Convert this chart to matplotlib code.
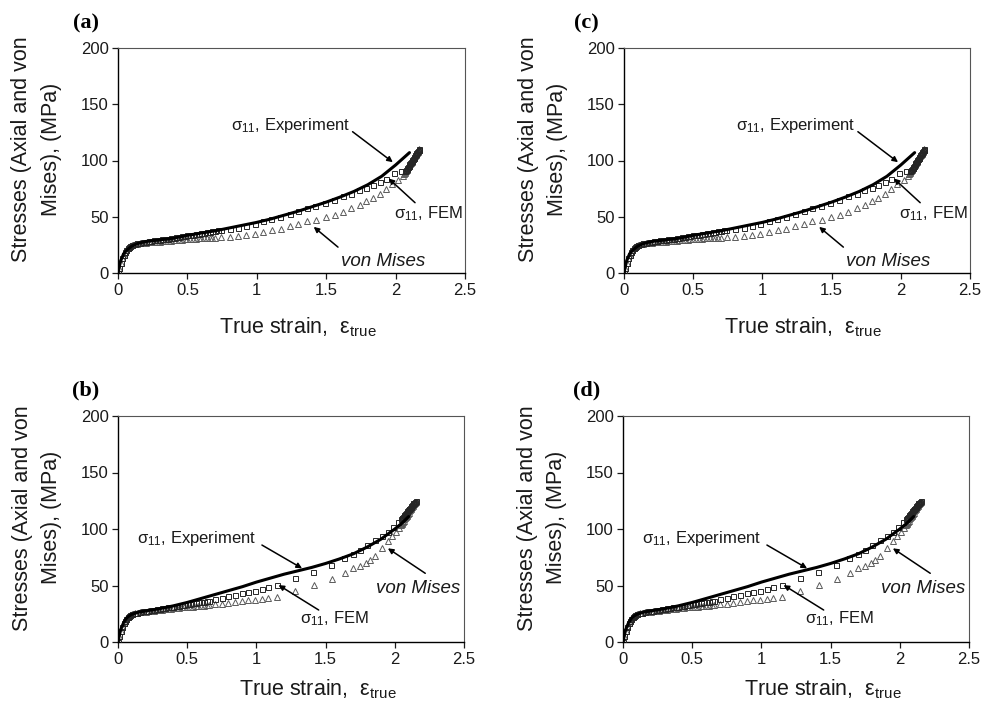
"""
Stress vs true strain, four panels (a)-(d): experiment line, FEM sigma_11
(squares) and von Mises (triangles).
"""
import matplotlib
matplotlib.use('Agg')
import matplotlib.pyplot as plt

plt.rcParams['font.family'] = ['Liberation Sans', 'DejaVu Sans']
plt.rcParams['mathtext.fontset'] = 'custom'
plt.rcParams['mathtext.rm'] = 'Liberation Sans'
plt.rcParams['mathtext.it'] = 'Liberation Sans:italic'
plt.rcParams['mathtext.sf'] = 'Liberation Sans'

# -----------------------------------------------------------------------------
# Datos: panel superior (a) y (c)
# -----------------------------------------------------------------------------
exp_top_x = [0, 0.01, 0.02, 0.04, 0.06, 0.08, 0.1, 0.15, 0.2, 0.3, 0.4, 0.5,
             0.6, 0.7, 0.8, 0.9, 1.0, 1.1, 1.2, 1.3, 1.4, 1.5, 1.6, 1.7, 1.8,
             1.9, 2.0, 2.05, 2.1]
exp_top_y = [0, 6, 11, 17, 20, 22, 24, 26.5, 28, 29.5, 31, 33.5, 35.5, 37.5,
             40, 42.5, 45, 48, 51.5, 55, 59, 63, 67.5, 72.5, 78.5, 86, 96,
             101.5, 107]

fem_top_x = [0, 0.01, 0.02, 0.03, 0.04, 0.05, 0.06, 0.07, 0.08, 0.09, 0.10,
             0.12, 0.14, 0.16, 0.18, 0.20, 0.22, 0.24, 0.26, 0.28, 0.30, 0.32,
             0.34, 0.36, 0.38, 0.40, 0.42, 0.44, 0.46, 0.48, 0.50, 0.52, 0.54,
             0.56, 0.58, 0.60, 0.62, 0.64, 0.66, 0.68, 0.70, 0.72, 0.74,
             0.805, 0.865, 0.925, 0.985, 1.045, 1.105, 1.17, 1.237, 1.30, 1.36,
             1.42, 1.49, 1.554, 1.62, 1.68, 1.736, 1.79, 1.837, 1.885, 1.93,
             1.99, 2.04, 2.07, 2.075, 2.08, 2.085, 2.09, 2.095, 2.10, 2.105,
             2.11, 2.115, 2.12, 2.125, 2.13, 2.135, 2.14, 2.145, 2.15, 2.155,
             2.16, 2.165, 2.17]
fem_top_y = [0, 4.5, 9, 13, 16, 18.5, 20.5, 22, 23, 24, 24.8,
             25.8, 26.5, 27, 27.4, 27.8, 28.2, 28.5, 28.9, 29.2, 29.6, 29.9,
             30.3, 30.6, 31, 31.4, 31.8, 32.2, 32.6, 33, 33.4, 33.8, 34.2,
             34.6, 35, 35.4, 35.8, 36.2, 36.6, 37, 37.4, 37.8, 38.2,
             39.3, 40.3, 41.6, 43.6, 45.8, 47.9, 50.2, 52.6, 55.0, 57.5,
             59.5, 62.6, 65.2, 68.1, 70.5, 73.4, 75.5, 77.9, 80.5, 83.6,
             88.5, 90.3, 90.8, 91.5, 92.5, 93.5, 94.5, 95.5, 96.5, 97.5,
             98.5, 99.5, 100.5, 101.5, 102.5, 103.5, 104.5, 105.5, 106.5, 107.5,
             108.5, 109.3, 110]

vm_top_x = [0, 0.01, 0.02, 0.03, 0.04, 0.05, 0.06, 0.07, 0.08, 0.09, 0.10,
            0.12, 0.14, 0.16, 0.18, 0.20, 0.22, 0.24, 0.26, 0.28, 0.30, 0.32,
            0.34, 0.36, 0.38, 0.40, 0.42, 0.44, 0.46, 0.48, 0.50, 0.52, 0.54,
            0.56, 0.58, 0.60, 0.62, 0.64, 0.66, 0.68, 0.70,
            0.745, 0.805, 0.865, 0.925, 0.985, 1.045, 1.112, 1.172, 1.237, 1.30,
            1.36, 1.43, 1.497, 1.56, 1.62, 1.68, 1.74, 1.79, 1.837, 1.885,
            1.93, 1.975, 2.02, 2.05, 2.06, 2.065, 2.07, 2.075, 2.08, 2.085,
            2.09, 2.095, 2.10, 2.105, 2.11, 2.115, 2.12, 2.125, 2.13, 2.135,
            2.14, 2.145, 2.15, 2.155, 2.16, 2.165, 2.17]
vm_top_y = [0, 4.5, 9, 13, 16, 18.5, 20.5, 22, 23, 24, 24.8,
            25.6, 26.1, 26.5, 26.8, 27, 27.2, 27.4, 27.6, 27.8, 28, 28.2,
            28.4, 28.6, 28.8, 29, 29.2, 29.4, 29.6, 29.8, 30, 30.2, 30.4,
            30.6, 30.8, 31, 31.1, 31.2, 31.3, 31.4, 31.5,
            31.6, 32, 32.6, 33.5, 34.7, 36.1, 38.5, 39.4, 41.4, 43.8,
            45.9, 47.4, 49.8, 51.8, 54.5, 57.8, 60.7, 63.7, 66.7, 70.5,
            74.7, 79.1, 82.9, 86.5, 88, 89, 90, 91, 92, 93,
            94, 95, 96, 97, 98, 99, 100, 101, 102, 103,
            104, 105, 106, 107, 108, 109, 110]

# -----------------------------------------------------------------------------
# Datos: panel inferior (b) y (d)
# -----------------------------------------------------------------------------
exp_bot_x = [0, 0.01, 0.02, 0.04, 0.06, 0.08, 0.1, 0.15, 0.2, 0.3, 0.4, 0.5,
             0.6, 0.7, 0.8, 0.9, 1.0, 1.1, 1.2, 1.3, 1.4, 1.5, 1.6, 1.7, 1.8,
             1.9, 2.0, 2.05, 2.1]
exp_bot_y = [0, 6, 11, 17, 21, 23, 24.5, 26.5, 27.5, 29.5, 32, 35, 38.5, 42,
             45.5, 49, 53, 56.5, 60, 63, 66, 69.5, 73.5, 78, 84, 91, 100,
             105, 111]

fem_bot_x = [0, 0.01, 0.02, 0.03, 0.04, 0.05, 0.06, 0.07, 0.08, 0.09, 0.10,
             0.12, 0.14, 0.16, 0.18, 0.20, 0.22, 0.24, 0.26, 0.28, 0.30, 0.32,
             0.34, 0.36, 0.38, 0.40, 0.42, 0.44, 0.46, 0.48, 0.50, 0.52, 0.54,
             0.56, 0.58, 0.60, 0.62, 0.64, 0.66,
             0.70, 0.75, 0.797, 0.845, 0.894, 0.94, 0.99, 1.038, 1.086, 1.146,
             1.28, 1.41, 1.54, 1.635, 1.70, 1.75, 1.80, 1.86, 1.905, 1.95,
             1.99, 2.025, 2.045, 2.05, 2.055, 2.06, 2.065, 2.07, 2.075, 2.08,
             2.085, 2.09, 2.095, 2.10, 2.105, 2.11, 2.115, 2.12, 2.125, 2.13,
             2.135, 2.14, 2.145, 2.15]
fem_bot_y = [0, 5, 9.5, 13.5, 16.5, 19, 20.5, 22, 23, 24, 24.7,
             25.5, 26.1, 26.6, 27, 27.4, 27.8, 28.2, 28.6, 29, 29.4, 29.8,
             30.2, 30.6, 31, 31.4, 31.8, 32.2, 32.6, 33, 33.4, 33.8, 34.2,
             34.6, 35, 35.4, 35.8, 36.2, 36.6,
             37.8, 39.3, 40.5, 41.6, 43.0, 44.2, 45.4, 46.9, 48.4, 50.6,
             56.3, 62.2, 68.1, 74, 78, 81.5, 85.5, 90, 93.8, 97.6,
             102, 106, 108.5, 109.3, 110.1, 110.9, 111.7, 112.5, 113.3, 114.1,
             114.9, 115.7, 116.5, 117.3, 118.1, 118.9, 119.7, 120.5, 121.3, 122.1,
             122.8, 123.4, 124, 124.5]

vm_bot_x = [0, 0.01, 0.02, 0.03, 0.04, 0.05, 0.06, 0.07, 0.08, 0.09, 0.10,
            0.12, 0.14, 0.16, 0.18, 0.20, 0.22, 0.24, 0.26, 0.28, 0.30, 0.32,
            0.34, 0.36, 0.38, 0.40, 0.42, 0.44, 0.46, 0.48, 0.50, 0.52, 0.54,
            0.56, 0.58, 0.60, 0.62, 0.64, 0.66,
            0.70, 0.75, 0.797, 0.845, 0.894, 0.94, 0.99, 1.038, 1.086, 1.146,
            1.28, 1.416, 1.544, 1.64, 1.70, 1.75, 1.79, 1.82, 1.857, 1.905,
            1.95, 1.98, 2.01, 2.03, 2.045, 2.05, 2.055, 2.06, 2.065, 2.07,
            2.075, 2.08, 2.085, 2.09, 2.095, 2.10, 2.105, 2.11, 2.115, 2.12,
            2.125, 2.13, 2.135, 2.14, 2.145, 2.15]
vm_bot_y = [0, 5, 9.5, 13.5, 16.5, 19, 20.5, 22, 23, 24, 24.7,
            25.4, 25.9, 26.3, 26.6, 26.9, 27.2, 27.5, 27.8, 28.1, 28.4, 28.7,
            29, 29.3, 29.6, 29.9, 30.2, 30.4, 30.6, 30.8, 31, 31.2, 31.4,
            31.6, 31.8, 32, 32.2, 32.4, 32.6,
            33.2, 33.8, 34.5, 35.2, 36, 36.8, 37.5, 38.3, 39.2, 40.1,
            45.4, 50.4, 55.5, 60.8, 65.2, 67.3, 69.6, 72.6, 76.1, 82.9,
            89, 93.5, 97.5, 101, 103.5, 104.5, 105.5, 106.5, 107.5, 108.5,
            109.5, 110.5, 111.5, 112.5, 113.5, 114.5, 115.5, 116.5, 117.5, 118.5,
            119.5, 120.5, 121.3, 122, 122.8, 123.5]

x_ticks = [0, 0.5, 1, 1.5, 2, 2.5]
x_tick_labels = ['0', '0.5', '1', '1.5', '2', '2.5']
y_ticks = [0, 50, 100, 150, 200]

LBL_EXP = r'σ$_{\mathit{11}}$, Experiment'
LBL_FEM = r'σ$_{\mathit{11}}$, FEM'
LBL_VM = 'von Mises'
XLABEL = r'True strain,  ε$_{\mathsf{true}}$'
YLABEL = 'Stresses (Axial and von\nMises), (MPa)'

# anotaciones: (texto, pos texto, alineacion, cola flecha, punta flecha, estilo, tamano)
ANN_TOP = [
    (LBL_EXP, (1.67, 131), 'right', (1.69, 125.6), (1.98, 98.5), 'normal', 12),
    (LBL_FEM, (2.235, 53), 'center', (2.14, 62.5), (1.95, 84), 'normal', 12),
    (LBL_VM, (1.91, 10.5), 'center', (1.585, 23), (1.41, 41), 'italic', 13.5),
]
ANN_BOT = [
    (LBL_EXP, (0.57, 92), 'center', (1.04, 85.8), (1.33, 65.2), 'normal', 12),
    (LBL_FEM, (1.565, 21), 'center', (1.45, 28.3), (1.16, 50.4), 'normal', 12),
    (LBL_VM, (2.165, 47.5), 'center', (2.22, 60.8), (1.95, 82.9), 'italic', 13.5),
]

W, H = 982, 703


def _panel(fig, box, letter, letter_xy, exp, fem, vm, ann, xlab_x, xlab_y):
    l, r, t, b = box
    ax = fig.add_axes([l / W, (H - b) / H, (r - l) / W, (b - t) / H])
    ax.plot(vm[0], vm[1], linestyle='none', marker='^', ms=4.2,
            mfc='none', mec='#5a5a5a', mew=0.7, zorder=2)
    ax.plot(fem[0], fem[1], linestyle='none', marker='s', ms=3.6,
            mfc='none', mec='#262626', mew=0.7, zorder=3)
    ax.plot(exp[0], exp[1], color='black', lw=2.2, solid_capstyle='round',
            zorder=4)

    ax.set_xlim(0, 2.5)
    ax.set_ylim(0, 200)
    ax.set_xticks(x_ticks)
    ax.set_xticklabels(x_tick_labels)
    ax.set_yticks(y_ticks)
    ax.tick_params(direction='out', length=4.5, width=0.9, labelsize=12,
                   colors='#1a1a1a')
    ax.tick_params(axis='x', pad=3)
    ax.tick_params(axis='y', pad=2)
    for side in ('left', 'bottom'):
        ax.spines[side].set_color('black')
        ax.spines[side].set_linewidth(1.0)
    for side in ('top', 'right'):
        ax.spines[side].set_color('#555555')
        ax.spines[side].set_linewidth(0.8)

    ax.set_xlabel(XLABEL, fontsize=15.5, color='#1a1a1a', va='center')
    ax.xaxis.set_label_coords(xlab_x, xlab_y)
    ax.set_ylabel(YLABEL, fontsize=15.5, color='#1a1a1a', linespacing=1.55,
                  va='center')
    ax.yaxis.set_label_coords(-0.234, 0.55)

    for txt, pos, ha, tail, tip, style, fs in ann:
        ax.text(pos[0], pos[1], txt, ha=ha, va='center', fontsize=fs,
                style=style, color='#1a1a1a')
        ax.annotate('', xy=tip, xytext=tail,
                    arrowprops=dict(arrowstyle='-|>', color='black', lw=1.1,
                                    mutation_scale=8, shrinkA=0, shrinkB=0))

    fig.text(letter_xy[0] / W, 1 - letter_xy[1] / H, letter, ha='center',
             va='center', fontsize=16, fontweight='bold',
             family='Liberation Serif')
    return ax


fig = plt.figure(figsize=(W / 100, H / 100), dpi=100)

top = ((exp_top_x, exp_top_y), (fem_top_x, fem_top_y), (vm_top_x, vm_top_y))
bot = ((exp_bot_x, exp_bot_y), (fem_bot_x, fem_bot_y), (vm_bot_x, vm_bot_y))

_panel(fig, (118, 465, 48, 273), '(a)', (86, 23), *top, ANN_TOP, 0.517, -0.24)
_panel(fig, (118, 464, 416, 642), '(b)', (86, 390), *bot, ANN_BOT, 0.577, -0.21)
_panel(fig, (624, 970, 48, 273), '(c)', (586, 23), *top, ANN_TOP, 0.518, -0.24)
_panel(fig, (623, 969, 416, 642), '(d)', (587, 390), *bot, ANN_BOT, 0.577, -0.21)

fig.savefig('out.png', dpi=100)
plt.close(fig)
